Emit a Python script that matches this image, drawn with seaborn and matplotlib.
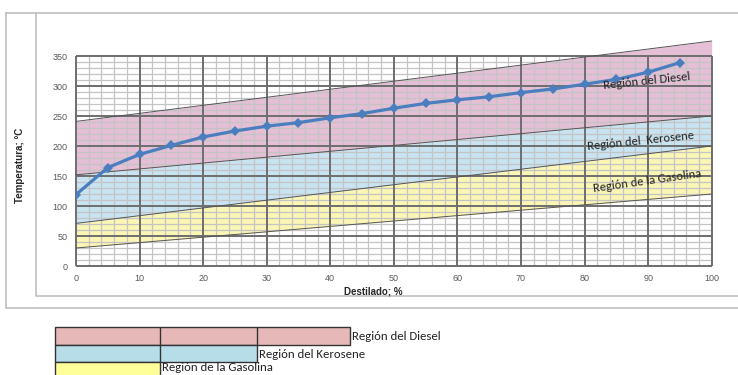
import numpy as np
import pandas as pd
import matplotlib.pyplot as plt
from matplotlib.patches import Rectangle
from matplotlib.lines import Line2D
import seaborn as sns

# curva de destilacion
destilado = [0, 5, 10, 15, 20, 25, 30, 35, 40, 45, 50, 55, 60, 65, 70, 75, 80, 85, 90, 95]
temperatura = [119, 164, 186, 201, 215, 225, 233, 239, 247, 254, 263, 271, 277, 282, 289, 295, 303, 311, 323, 339]

# limites de las regiones (en x=0 y x=100)
lim_x = [0, 100]
diesel_sup = [241, 375]
diesel_inf = [152, 250]
gasolina_sup = [71, 200]
gasolina_inf = [30, 120]

regiones = ['Región del Diesel', 'Región del Kerosene', 'Región de la Gasolina']
col_banda = ['#E5BFD6', '#C8E4F2', '#FBF6B4']
col_leyenda = ['#E6B9B8', '#B7DDE8', '#FFFF99']

sns.set_style('white')
plt.rcParams['font.family'] = ['Liberation Sans', 'DejaVu Sans']
fuente = ['Carlito', 'Lato', 'DejaVu Sans']

fig = plt.figure(figsize=(7.38, 3.75), dpi=100)

# marco de fondo y leyenda en coordenadas de pixel
bg = fig.add_axes([0, 0, 1, 1])
bg.set_xlim(0, 738)
bg.set_ylim(375, 0)
bg.axis('off')
gris = '#BFBFBF'
bg.add_line(Line2D([6, 6, 740], [13, 308, 308], color=gris, lw=1.2))
bg.add_line(Line2D([6, 740], [13, 13], color=gris, lw=1.2))
bg.add_line(Line2D([36, 36, 740], [13, 296, 296], color=gris, lw=1.2))

filas = [(327, 345, 350), (345, 362, 257), (362, 380, 160)]
for (y0, y1, x1), c, lab in zip(filas, col_leyenda, regiones):
    bg.add_patch(Rectangle((55, y0), x1 - 55, y1 - y0, facecolor=c, edgecolor='#333333', lw=1.0))
    for xd in [160, 257]:
        if xd < x1:
            bg.add_line(Line2D([xd, xd], [y0, y1], color='#333333', lw=1.0))
    yt = min((y0 + y1) / 2 + 0.5, 367.5)
    bg.text(x1 + 2, yt, lab, fontsize=9.2, va='center', ha='left',
            family=fuente, color='#222222')

ax = fig.add_axes([76 / 738, 1 - 266 / 375, (711.7 - 76) / 738, (266 - 56) / 375])
ax.set_xlim(0, 100)
ax.set_ylim(0, 350)

# bandas
ax.fill_between(lim_x, diesel_inf, diesel_sup, color=col_banda[0], lw=0, zorder=0, clip_on=False)
ax.fill_between(lim_x, gasolina_sup, diesel_inf, color=col_banda[1], lw=0, zorder=0)
ax.fill_between(lim_x, gasolina_inf, gasolina_sup, color=col_banda[2], lw=0, zorder=0)
for lim in [diesel_sup, diesel_inf, gasolina_sup, gasolina_inf]:
    ax.plot(lim_x, lim, color='#555555', lw=0.7, zorder=2, clip_on=False)

# rejilla (menor debajo, mayor encima)
xmen = [v for v in range(0, 101, 2) if v % 10]
ymen = [v for v in range(0, 351, 10) if v % 50]
ax.vlines(xmen, 0, 350, color='#C4C4C4', lw=0.9, zorder=1)
ax.hlines(ymen, 0, 100, color='#C4C4C4', lw=0.9, zorder=1)
ax.vlines(np.arange(0, 101, 10), 0, 350, color='#6E6E6E', lw=1.4, zorder=1.5, clip_on=False)
ax.hlines(np.arange(0, 351, 50), 0, 100, color='#6E6E6E', lw=1.4, zorder=1.5, clip_on=False)

ax.set_xticks(np.arange(0, 101, 10))
ax.set_yticks(np.arange(0, 351, 50))
for s in ax.spines.values():
    s.set_visible(False)
ax.tick_params(which='both', length=0, labelsize=6.5, labelcolor='#595959', pad=6)

df = pd.DataFrame({'x': destilado, 'y': temperatura})
sns.lineplot(data=df, x='x', y='y', ax=ax, color='#4A7EBF', lw=2.3, marker='D',
             markersize=5, markeredgewidth=0, zorder=5)

ax.set_xlabel('')
ax.set_ylabel('')
fig.text(373 / 738, 1 - 291 / 375, 'Destilado; %', fontsize=7, fontweight='bold',
         ha='center', va='center')
fig.text(20 / 738, 1 - 165 / 375, 'Temperatura; °C', rotation=90, fontsize=7,
         fontweight='bold', ha='center', va='center')

ax.text(89.8, 309, regiones[0], rotation=6, fontsize=9, ha='center', va='center',
        family=fuente, color='#222222', zorder=6)
ax.text(88.8, 209, 'Región del  Kerosene', rotation=6, fontsize=9, ha='center', va='center',
        family=fuente, color='#222222', zorder=6)
ax.text(89.8, 141, regiones[2], rotation=8, fontsize=9, ha='center', va='center',
        family=fuente, color='#222222', zorder=6)

fig.savefig('out.png', dpi=100)
